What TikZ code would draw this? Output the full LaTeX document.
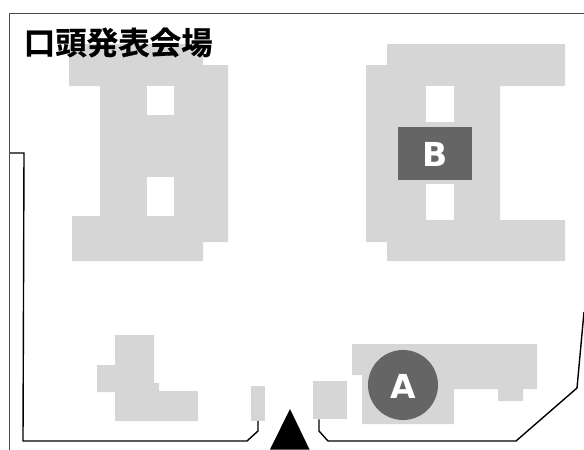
\documentclass[tikz,border=0pt]{standalone}
\usepackage{fontspec}
\newfontfamily\cjkbold[FakeBold=0.6]{Noto Sans CJK JP Bold}
\newfontfamily\labelfont{DejaVu Sans Bold}
\definecolor{bldg}{HTML}{D6D6D6}
\definecolor{mark}{HTML}{656565}
\tikzset{
  building/.style={fill=bldg,draw=none},
  hole/.style={fill=white,draw=none},
  frameline/.style={draw=black!70,line width=1pt},
  route/.style={draw=black,line width=1.4pt,line join=miter},
  marklabel/.style={text=white,font=\labelfont\fontsize{33}{33}\selectfont,inner sep=0pt},
}
\begin{document}
\begin{tikzpicture}[x=1pt,y=-1pt]
\useasboundingbox (0,0) rectangle (584,450);
% frame
\draw[frameline] (9.5,450) -- (9.5,13) -- (584,13);
% north-west building
\fill[building] (69,44) -- (203,44) -- (203,65) -- (228,65) -- (228,242) -- (203,242) -- (203,261) -- (72,261) -- (72,216) -- (100,216) -- (100,86) -- (69,86) -- cycle;
\fill[hole] (147,86) rectangle (174,114.5);
\fill[hole] (147,177) rectangle (174,216);
% north-east building
\fill[building] (387,44) -- (565,44) -- (565,86) -- (500,86) -- (500,220) -- (565,220) -- (565,261) -- (387,261) -- (387,242) -- (366,242) -- (366,65) -- (387,65) -- cycle;
\fill[hole] (426,86) rectangle (454,121.5);
\fill[hole] (426,184) rectangle (454,220);
% south-west buildings
\fill[building] (115,335) -- (154,335) -- (154,383) -- (159,383) -- (159,391) -- (198,391) -- (198,421) -- (115,421) -- (115,392) -- (97,392) -- (97,365) -- (115,365) -- cycle;
\node[building,minimum width=14pt,minimum height=34.5pt,inner sep=0pt,anchor=north west] (gateW) at (251,386) {};
% south-east buildings
\node[building,minimum width=34pt,minimum height=38pt,inner sep=0pt,anchor=north west] (gateE) at (313,381) {};
\fill[building] (352,344) -- (537,344) -- (537,389) -- (523,389) -- (523,401) -- (498,401) -- (498,389) -- (454,389) -- (454,424) -- (362,424) -- (362,375) -- (352,375) -- cycle;
% routes
\coordinate (wA) at (10,153);
\coordinate (wB) at (24,153);
\coordinate (wC) at (23,441);
\coordinate (wD) at (247,441);
\coordinate (wE) at (258,431);
\coordinate (eA) at (319,431);
\coordinate (eB) at (328,441);
\coordinate (eC) at (516,441);
\coordinate (eD) at (577,388);
\coordinate (eE) at (584,312);
\draw[route] (wA) -- (wB) -- (wC) -- (wD) -- (wE) -- (wE |- gateW.south);
\draw[route] (eA |- gateE.south) -- (eA) -- (eB) -- (eC) -- (eD) -- (eE);
% markers
\node[fill=mark,minimum width=74pt,minimum height=53pt,inner sep=0pt] (roomB) at (435,153.5) {};
\node[marklabel] (labelB) at (435.5,154) {B};
\node[circle,fill=mark,minimum size=70pt,inner sep=0pt] (roomA) at (403,385) {};
\node[marklabel] (labelA) at (403.5,386) {A};
% entrance triangle
\fill[black] (290,409) -- (309.5,449.5) -- (270,449.5) -- cycle;
% title
\node[anchor=west,inner sep=0pt,font=\cjkbold\fontsize{31.5}{32}\selectfont] (title) at (23.5,42.5) {口頭発表会場};
\end{tikzpicture}
\end{document}
